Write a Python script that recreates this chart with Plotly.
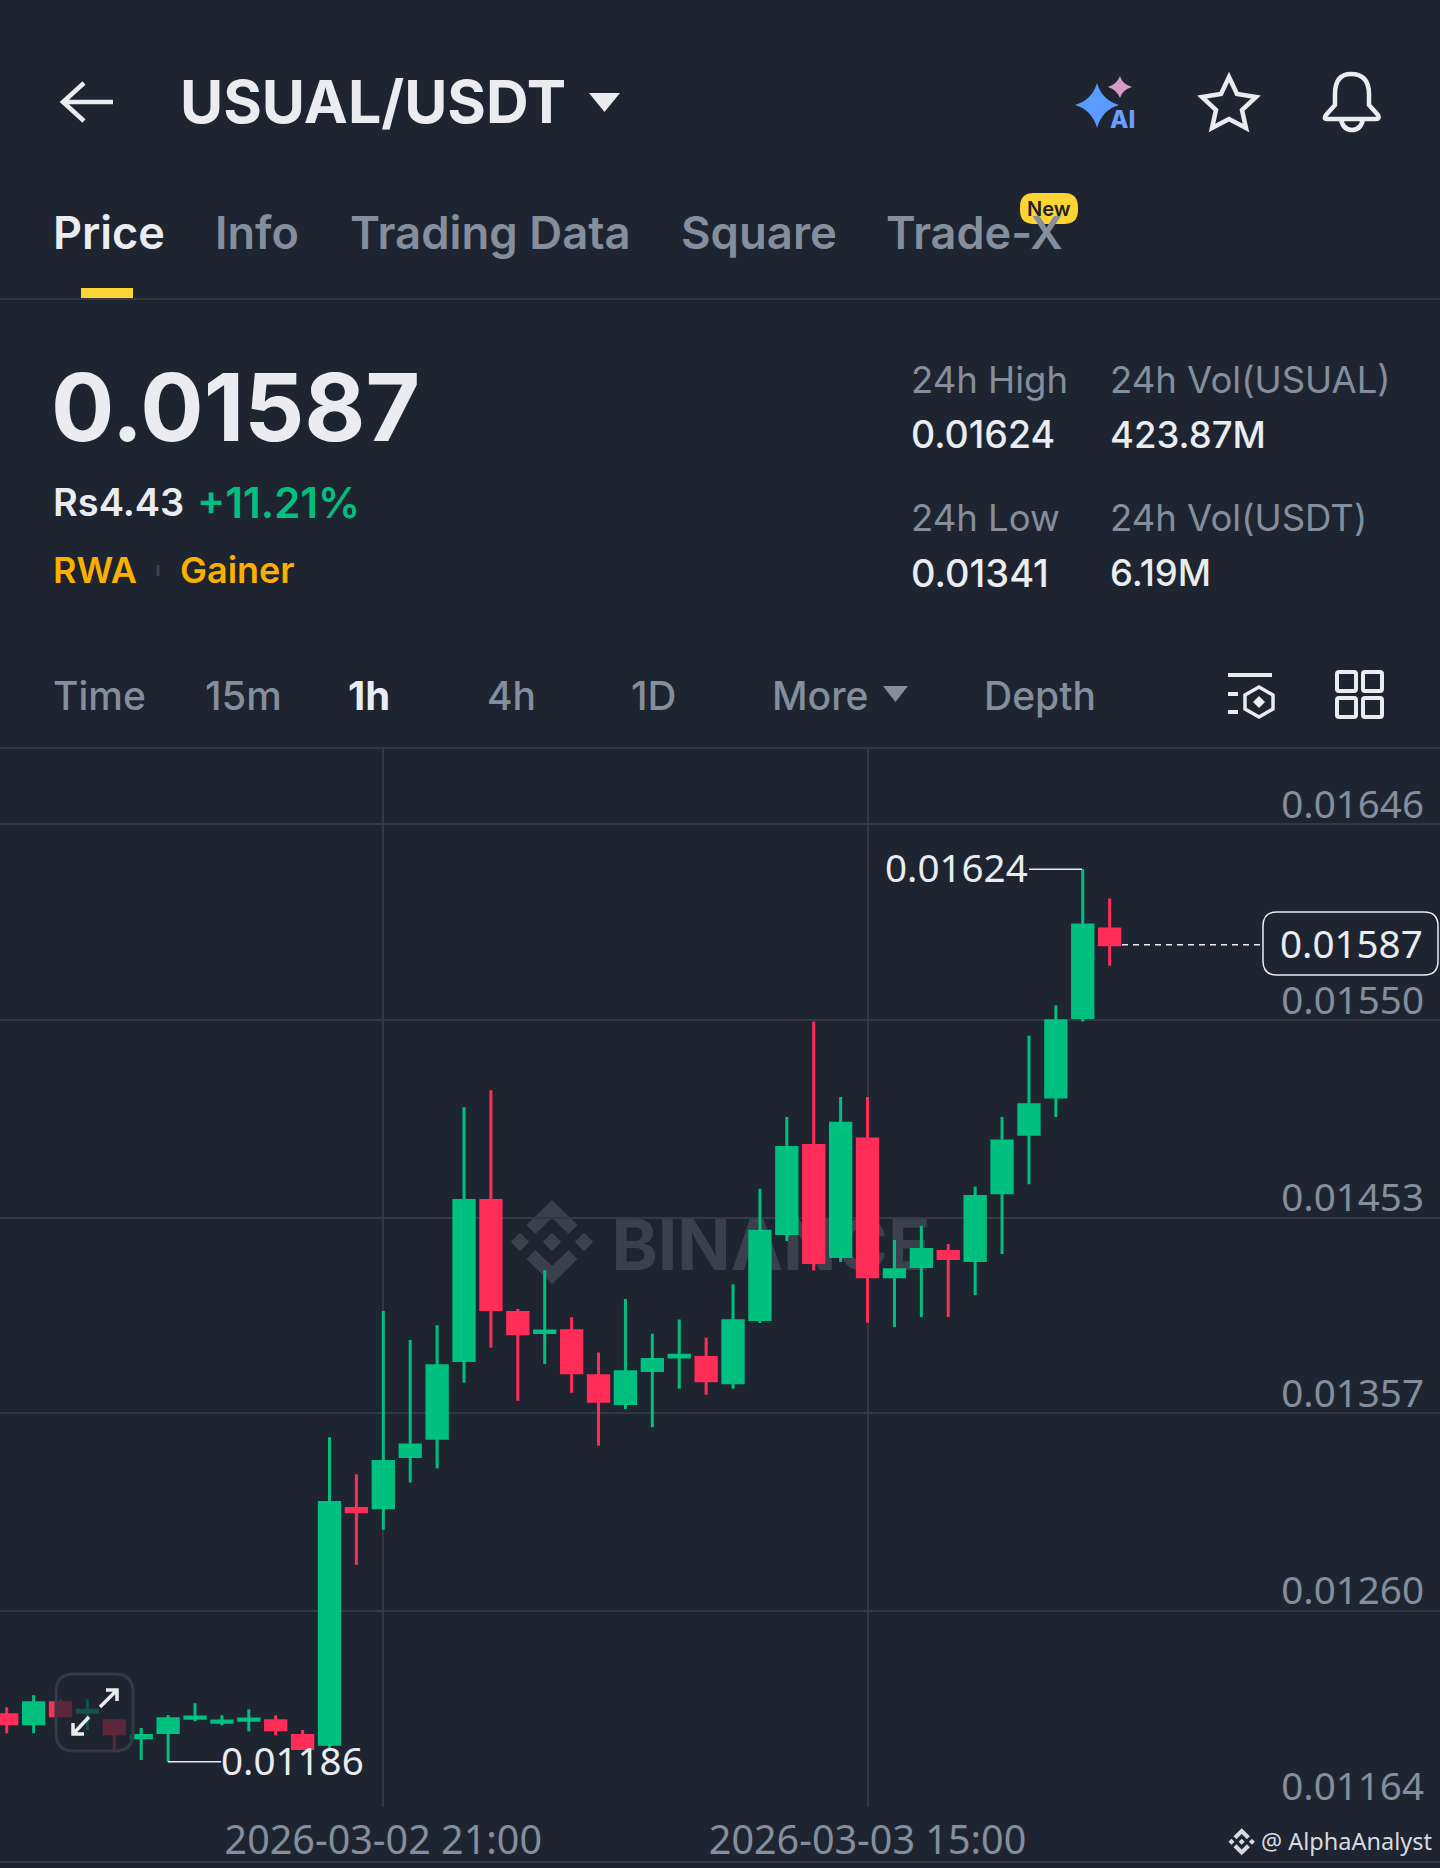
import re
import pandas as pd
import plotly.graph_objects as go

W = 1440
H = 1868
BG = "#1E2531"
GRID = "#323945"
GREEN = "#00C080"
RED = "#FF2D58"
WHITE = "#EAECEF"
GREY = "#848E9C"
YELLOW = "#FCD535"
ORANGE = "#FBB000"
UI = "Inter"
NUM = "Noto Sans"

# one hourly candle each
times = pd.date_range("2026-03-02 07:00", periods=42, freq="h")
opens = [0.012091, 0.012046, 0.012149, 0.012103, 0.012061, 0.011978, 0.012004, 0.012073, 0.012054, 0.012064,
         0.012061, 0.011989, 0.011946, 0.013103, 0.013106, 0.013358, 0.013448, 0.013829, 0.014614, 0.014065,
         0.013966, 0.013975, 0.013754, 0.013618, 0.013780, 0.013846, 0.013844, 0.013720, 0.014030, 0.014452,
         0.014884, 0.014340, 0.014916, 0.014240, 0.014291, 0.014364, 0.014320, 0.014652, 0.014940, 0.015122,
         0.015513, 0.015947]
highs = [0.012127, 0.012186, 0.012167, 0.012167, 0.012069, 0.012026, 0.012088, 0.012147, 0.012088, 0.012118,
         0.012088, 0.012016, 0.013452, 0.013271, 0.014072, 0.013930, 0.014002, 0.015072, 0.015155, 0.014082,
         0.014272, 0.014041, 0.013869, 0.014131, 0.013961, 0.014031, 0.013941, 0.014203, 0.014672, 0.015024,
         0.015493, 0.015122, 0.015122, 0.014420, 0.014491, 0.014401, 0.014682, 0.015024, 0.015423, 0.015572,
         0.016240, 0.016096]
lows = [0.012000, 0.012000, 0.012078, 0.012016, 0.011921, 0.011869, 0.011860, 0.012059, 0.012039, 0.012010,
        0.011990, 0.011918, 0.011918, 0.012827, 0.012999, 0.013230, 0.013300, 0.013720, 0.013892, 0.013632,
        0.013812, 0.013671, 0.013411, 0.013591, 0.013501, 0.013691, 0.013661, 0.013691, 0.014013, 0.014416,
        0.014271, 0.014312, 0.014014, 0.013994, 0.014043, 0.014043, 0.014151, 0.014352, 0.014694, 0.015024,
        0.015493, 0.015766]
closes = [0.012046, 0.012149, 0.012086, 0.012113, 0.011997, 0.011989, 0.012071, 0.012080, 0.012060, 0.012070,
          0.012017, 0.011925, 0.013132, 0.013087, 0.013334, 0.013414, 0.013803, 0.014614, 0.014079, 0.013960,
          0.013974, 0.013769, 0.013629, 0.013774, 0.013834, 0.013855, 0.013730, 0.014024, 0.014464, 0.014874,
          0.014310, 0.014993, 0.014240, 0.014275, 0.014374, 0.014330, 0.014634, 0.014906, 0.015084, 0.015496,
          0.015966, 0.015870]

price_ticks = [0.01646, 0.01550, 0.01453, 0.01357, 0.01260, 0.01164]
price_labels = ["0.01646", "0.01550", "0.01453", "0.01357", "0.01260", "0.01164"]
time_ticks = ["2026-03-02 21:00", "2026-03-03 15:00"]
time_labels = ["2026-03-02 21:00", "2026-03-03 15:00"]

last_price = 0.01587
high_price = 0.01624
low_price = 0.01186


def pix_path(s):
    # svg path in screen pixels -> paper coords
    out = []
    is_x = True
    for tok in re.findall(r"[A-Za-z]|-?\d+\.?\d*", s):
        if tok.isalpha():
            out.append(tok)
            is_x = True
        elif is_x:
            out.append(f"{float(tok) / W:.5f}")
            is_x = False
        else:
            out.append(f"{1 - float(tok) / H:.5f}")
            is_x = True
    return " ".join(out)


def rrect(x0, y0, x1, y1, r):
    return (f"M{x0 + r} {y0} L{x1 - r} {y0} Q{x1} {y0} {x1} {y0 + r} L{x1} {y1 - r} Q{x1} {y1} {x1 - r} {y1} "
            f"L{x0 + r} {y1} Q{x0} {y1} {x0} {y1 - r} L{x0} {y0 + r} Q{x0} {y0} {x0 + r} {y0} Z")


def logo(cx, cy, k):
    parts = []
    for dx, dy in [(0, 0), (-32, 0), (32, 0)]:
        a, b = cx + dx * k, cy + dy * k
        d = 9.3 * k
        parts.append(f"M{a - d} {b} L{a} {b - d} L{a + d} {b} L{a} {b + d} Z")
    for s in (-1, 1):
        parts.append(f"M{cx} {cy + s * 42 * k} L{cx + 25.5 * k} {cy + s * 17 * k} L{cx + 16.5 * k} {cy + s * 8 * k} "
                     f"L{cx} {cy + s * 24 * k} L{cx - 16.5 * k} {cy + s * 8 * k} L{cx - 25.5 * k} {cy + s * 17 * k} Z")
    return " ".join(parts)


shapes = []


def draw(s, fill=None, line=None, width=0, layer="above"):
    shapes.append(dict(type="path", xref="paper", yref="paper", path=pix_path(s), fillcolor=fill or "rgba(0,0,0,0)",
                       line=dict(color=line or "rgba(0,0,0,0)", width=width), layer=layer))


annotations = []


def label(x, y, text, size, color=WHITE, weight=400, family=UI, anchor="left"):
    annotations.append(dict(x=x / W, y=1 - y / H, xref="paper", yref="paper", text=text, showarrow=False,
                            xanchor=anchor, yanchor="middle", borderpad=0,
                            font=dict(size=size, color=color, weight=weight, family=family)))


fig = go.Figure(go.Candlestick(
    x=times, open=opens, high=highs, low=lows, close=closes,
    increasing=dict(line=dict(color=GREEN, width=3), fillcolor=GREEN),
    decreasing=dict(line=dict(color=RED, width=3), fillcolor=RED),
    whiskerwidth=0,
))

# header
draw("M113 102 L64 102 M84 83 L63 102 L84 121", line=WHITE, width=4.5)
draw("M589 93 L620 93 L604.5 112 Z", fill=WHITE)
label(179, 102, "USUAL/USDT", 59, WHITE, 700)
draw("M1097 83 Q1102 100 1119 105 Q1102 110 1097 128 Q1092 110 1075 105 Q1092 100 1097 83 Z", fill="#5A9BFF")
draw("M1120 76 Q1122 84 1132 87 Q1122 90 1120 98 Q1117 90 1108 87 Q1117 84 1120 76 Z", fill="#D79BC8")
label(1122, 119, "AI", 24, "#6C9DFF", 800, anchor="center")
draw("M1229 77 L1237 94 L1256 97 L1242 110 L1246 128 L1229 119 L1212 128 L1216 110 L1202 97 L1221 94 Z",
     line=WHITE, width=4.5)
draw("M1326 115 L1335 105 L1335 94 Q1335 74 1351 74 Q1369 74 1369 94 L1369 105 L1378 115 Q1380 119 1376 119 "
     "L1327 119 Q1323 119 1326 115 Z M1341 119 Q1343 130 1352 130 Q1361 130 1363 119", line=WHITE, width=4.5)

# tabs
label(52, 233, "Price", 45, WHITE, 600)
label(214, 233, "Info", 45, GREY, 600)
label(349, 233, "Trading Data", 45.5, GREY, 600)
label(680, 233, "Square", 45.5, GREY, 600)
label(885, 233, "Trade-X", 45, GREY, 600)
draw(rrect(1020, 193, 1078, 224, 14), fill=YELLOW)
label(1049, 209, "New", 20, "#1E2329", 600, anchor="center")
draw("M81 288 L133 288 L133 298 L81 298 Z", fill=YELLOW)
draw("M0 299 L1440 299", line=GRID, width=2)

# price block
label(50, 407, "0.01587", 94, WHITE, 700)
label(52, 502, "Rs4.43", 38, WHITE, 600)
label(196, 502, "+11.21%", 42, GREEN, 600)
label(52, 570, "RWA", 36, ORANGE, 600)
draw("M158 565 L158 576", line="#3A414D", width=3)
label(179, 570, "Gainer", 36, ORANGE, 600)
label(910, 380, "24h High", 36.5, GREY)
label(910, 435, "0.01624", 37.5, WHITE, 500)
label(1109, 380, "24h Vol(USUAL)", 36.5, GREY)
label(1109, 435, "423.87M", 36.5, WHITE, 500)
label(910, 518, "24h Low", 36.5, GREY)
label(910, 573, "0.01341", 38, WHITE, 500)
label(1109, 518, "24h Vol(USDT)", 36.5, GREY)
label(1109, 573, "6.19M", 36.5, WHITE, 500)

# interval row
label(52, 695, "Time", 39, GREY, 500)
label(204, 695, "15m", 40, GREY, 500)
label(347, 695, "1h", 40, WHITE, 700)
label(486, 695, "4h", 39, GREY, 500)
label(630, 695, "1D", 40, GREY, 500)
label(771, 695, "More", 39, GREY, 500)
draw("M883 686 L908 686 L895.5 702 Z", fill=GREY)
label(983, 695, "Depth", 39, GREY, 500)
draw("M1228 675 L1272 675 M1228 694 L1238 694 M1228 712 L1238 712", line=WHITE, width=4)
draw("M1259 687 L1273 695 L1273 709 L1259 717 L1245 709 L1245 695 Z", line=WHITE, width=3.5)
draw("M1259 696 L1265 702 L1259 708 L1253 702 Z", fill=WHITE)
for x0, y0 in [(1337, 672), (1363, 672), (1337, 698), (1363, 698)]:
    draw(rrect(x0, y0, x0 + 19, y0 + 19, 2), line=WHITE, width=4)
draw("M0 748 L1440 748", line=GRID, width=2)
draw("M0 1862 L1440 1862", line=GRID, width=2)

# watermark sits under the candles
draw(logo(552, 1242, 1), fill="#3A414D", layer="between")
shapes.append(dict(type="rect", xref="paper", yref="paper", x0=612 / W, x1=930 / W, y0=1 - 1272 / H, y1=1 - 1212 / H,
                   line=dict(width=0), fillcolor="rgba(0,0,0,0)", layer="between",
                   label=dict(text="<b>BINANCE</b>", textposition="middle center",
                              font=dict(size=70, color="#3A414D", family="Inter"))))

# high / low / last markers, tied to the data axes
shapes.append(dict(type="line", xref="paper", yref="y", x0=1029 / W, x1=1082 / W, y0=high_price, y1=high_price,
                   line=dict(color=WHITE, width=1.5)))
shapes.append(dict(type="line", xref="paper", yref="y", x0=168 / W, x1=221 / W, y0=low_price, y1=low_price,
                   line=dict(color=WHITE, width=1.5)))
shapes.append(dict(type="line", xref="paper", yref="y", x0=1122 / W, x1=1262 / W, y0=last_price, y1=last_price,
                   line=dict(color=WHITE, width=1.5, dash="6px,5px")))
label(1029, 867, "0.01624", 38.6, WHITE, 400, NUM, "right")
label(220, 1760, "0.01186", 38.6, WHITE, 400, NUM)
draw(rrect(1263, 912, 1438, 975, 14), fill=BG, line=WHITE, width=1.5)
label(1351, 943, "0.01587", 38.6, WHITE, 400, NUM, "center")

# expand button over the chart
draw(rrect(56, 1674, 133, 1751, 18), fill="rgba(30,37,49,0.72)", line="#323A46", width=3)
draw("M100 1707 L116 1691 M106 1690 L117 1690 L117 1701 M89 1717 L73 1734 M73 1723 L73 1734 L84 1734",
     line=WHITE, width=3.5)

# bottom credit
draw(logo(1241.7, 1841.7, 0.32), fill="#D8DADF")
label(1260, 1841, "@ AlphaAnalyst", 23.5, "#D8DADF", 400, NUM)

fig.update_layout(
    width=W,
    height=H,
    margin=dict(l=0, r=0, t=0, b=0),
    paper_bgcolor=BG,
    plot_bgcolor=BG,
    showlegend=False,
    boxgap=0.245,
    boxgroupgap=0,
    shapes=shapes,
    annotations=annotations,
    xaxis=dict(
        type="date",
        automargin=False,
        domain=[0, 1],
        range=["2026-03-02 06:45:04", "2026-03-04 12:16:48"],
        rangeslider=dict(visible=False),
        tickvals=time_ticks,
        ticktext=time_labels,
        tickfont=dict(size=39.5, color=GREY, family=NUM),
        ticks="",
        ticklabelstandoff=6,
        showgrid=True,
        gridcolor=GRID,
        gridwidth=2,
        showline=False,
        zeroline=False,
    ),
    yaxis=dict(
        automargin=False,
        domain=[1 - 1807 / H, 1 - 748 / H],
        range=[0.011638, 0.016835],
        side="right",
        tickvals=price_ticks,
        ticktext=price_labels,
        tickfont=dict(size=38.6, color=GREY, family=NUM),
        ticks="",
        ticklabelposition="inside",
        ticklabeloverflow="allow",
        ticklabelstandoff=13,
        ticklabelshift=-20,
        showgrid=True,
        gridcolor=GRID,
        gridwidth=2,
        showline=False,
        zeroline=False,
    ),
)

page_css = "margin:0;padding:0;height:1868px;overflow:hidden"
fig.write_html("out.html", config=dict(displayModeBar=False),
               post_script=f"document.documentElement.style.cssText='{page_css}';document.body.style.cssText='{page_css}';")
